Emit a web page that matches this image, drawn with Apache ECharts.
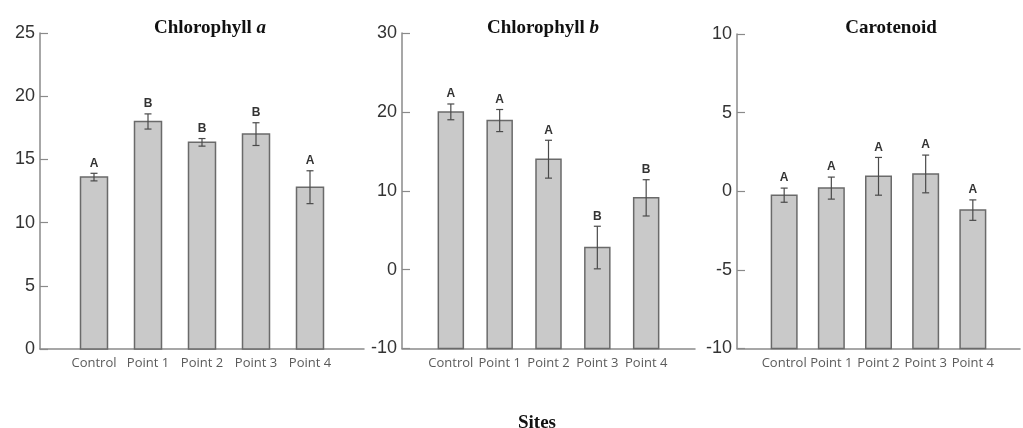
<!DOCTYPE html>
<html>
<head>
<meta charset="utf-8">
<script src="https://cdn.jsdelivr.net/npm/echarts@6/dist/echarts.min.js"></script>
<style>html,body{margin:0;padding:0;background:#fff}#c{width:1023px;height:428px}</style>
</head>
<body>
<div id="c"></div>
<script>
// ---- data ----
const categories = ['Control', 'Point 1', 'Point 2', 'Point 3', 'Point 4'];

const chlA = [13.6, 18.0, 16.35, 17.0, 12.8];
const chlAErr = [0.3, 0.6, 0.3, 0.9, 1.3];
const chlALetters = ['A', 'B', 'B', 'B', 'A'];

const chlB = [20.0, 18.9, 14.0, 2.8, 9.1];
const chlBErr = [1.0, 1.4, 2.4, 2.7, 2.3];
const chlBLetters = ['A', 'A', 'A', 'B', 'B'];

const carot = [-0.25, 0.2, 0.95, 1.1, -1.2];
const carotErr = [0.45, 0.7, 1.2, 1.2, 0.65];
const carotLetters = ['A', 'A', 'A', 'A', 'A'];

const yTicksA = [0, 5, 10, 15, 20, 25];
const yTicksB = [-10, 0, 10, 20, 30];
const yTicksC = [-10, -5, 0, 5, 10];

const panelTitles = ['Chlorophyll ', 'Chlorophyll ', 'Carotenoid'];
const panelTitleItalic = ['a', 'b', ''];
const xAxisTitle = 'Sites';

// ---- layout ----
const grids = [
  { left: 40, top: 33, width: 324, height: 316 },
  { left: 402, top: 33, width: 293, height: 315.5 },
  { left: 737, top: 34, width: 296, height: 314.5 }
];
const barWidths = [27, 25, 25.5];
const titleCenters = [205, 538, 886];

const panels = [
  { vals: chlA, err: chlAErr, letters: chlALetters, ticks: yTicksA },
  { vals: chlB, err: chlBErr, letters: chlBLetters, ticks: yTicksB },
  { vals: carot, err: carotErr, letters: carotLetters, ticks: yTicksC }
];

const paddedCats = [''].concat(categories, ['']);

const xAxes = [], yAxes = [], series = [], titles = [];
panels.forEach((p, k) => {
  const tmin = p.ticks[0], tmax = p.ticks[p.ticks.length - 1];
  const step = p.ticks[1] - p.ticks[0];
  xAxes.push({
    type: 'category', gridIndex: k, data: paddedCats, boundaryGap: false,
    axisLine: { show: true, onZero: false, lineStyle: { color: '#8a8a8a', width: 1.5 } },
    axisTick: { show: false },
    axisLabel: { interval: 0, margin: 8, color: '#5a5a5a', fontSize: 13, fontFamily: 'Open Sans' },
    splitLine: { show: false }
  });
  yAxes.push({
    type: 'value', gridIndex: k, min: tmin, max: tmax, interval: step,
    axisLine: { show: true, onZero: false, lineStyle: { color: '#8a8a8a', width: 1.5 } },
    axisTick: { show: true, inside: true, length: 8, lineStyle: { color: '#8a8a8a', width: 1.2 } },
    axisLabel: { margin: 5, color: '#333', fontSize: 18, fontFamily: 'Liberation Sans' },
    splitLine: { show: false }
  });
  const data = categories.map((c, i) => [c, p.vals[i], p.err[i]]);
  const bw = barWidths[k];
  series.push({
    type: 'custom', xAxisIndex: k, yAxisIndex: k, data: data,
    encode: { x: 0, y: 1 }, clip: false,
    renderItem: function (params, api) {
      const xi = api.value(0), v = api.value(1), e = api.value(2);
      const top = api.coord([xi, v]);
      const base = api.coord([xi, tmin]);
      const eHi = api.coord([xi, v + e]);
      const eLo = api.coord([xi, v - e]);
      const cx = top[0];
      const cap = 3.5;
      return {
        type: 'group',
        children: [
          { type: 'rect', shape: { x: cx - bw / 2, y: top[1], width: bw, height: base[1] - top[1] },
            style: { fill: '#c9c9c9', stroke: '#6a6a6a', lineWidth: 1.5 } },
          { type: 'line', shape: { x1: cx, y1: eHi[1], x2: cx, y2: eLo[1] }, style: { stroke: '#4a4a4a', lineWidth: 1.2 } },
          { type: 'line', shape: { x1: cx - cap, y1: eHi[1], x2: cx + cap, y2: eHi[1] }, style: { stroke: '#4a4a4a', lineWidth: 1.2 } },
          { type: 'line', shape: { x1: cx - cap, y1: eLo[1], x2: cx + cap, y2: eLo[1] }, style: { stroke: '#4a4a4a', lineWidth: 1.2 } },
          { type: 'text', style: { x: cx, y: eHi[1] - 4, text: p.letters[params.dataIndex], align: 'center', verticalAlign: 'bottom',
            fill: '#333', font: 'bold 12px "Liberation Sans"' } }
        ]
      };
    }
  });
  titles.push({
    text: '{b|' + panelTitles[k] + '}' + (panelTitleItalic[k] ? '{i|' + panelTitleItalic[k] + '}' : ''),
    left: titleCenters[k], top: 14, textAlign: 'center',
    textStyle: {
      rich: {
        b: { fontFamily: 'Liberation Serif', fontWeight: 'bold', fontSize: 19, color: '#111' },
        i: { fontFamily: 'Liberation Serif', fontWeight: 'bold', fontStyle: 'italic', fontSize: 19, color: '#111' }
      }
    }
  });
});
titles.push({
  text: xAxisTitle, left: 532, top: 409, textAlign: 'center',
  textStyle: { fontFamily: 'Liberation Serif', fontWeight: 'bold', fontSize: 19, color: '#111' }
});

const chart = echarts.init(document.getElementById('c'), null, { renderer: 'canvas' });
chart.setOption({
  animation: false,
  backgroundColor: '#fff',
  title: titles,
  grid: grids,
  xAxis: xAxes,
  yAxis: yAxes,
  series: series
});
</script>
</body>
</html>
